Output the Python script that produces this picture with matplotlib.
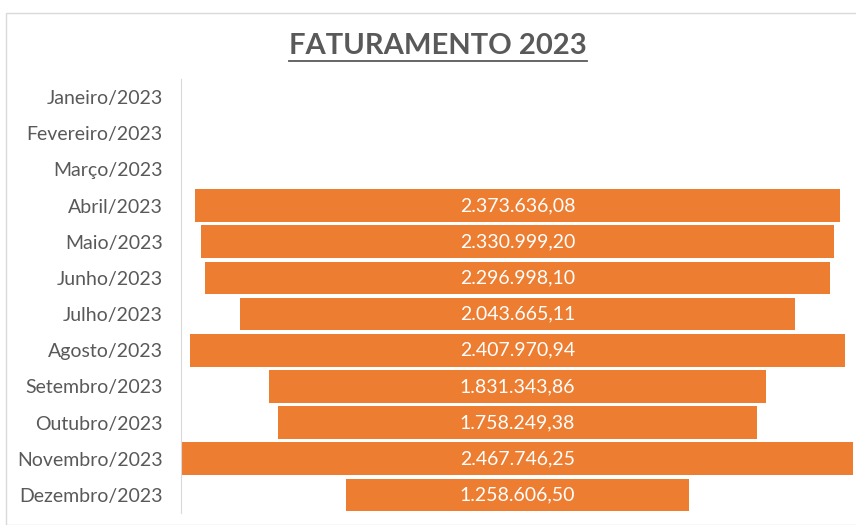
import numpy as np
import matplotlib.pyplot as plt
from matplotlib.lines import Line2D
from matplotlib.patches import Rectangle

plt.rcParams['font.family'] = ['Lato', 'DejaVu Sans']

months = ["Janeiro/2023", "Fevereiro/2023", "Março/2023", "Abril/2023",
          "Maio/2023", "Junho/2023", "Julho/2023", "Agosto/2023",
          "Setembro/2023", "Outubro/2023", "Novembro/2023", "Dezembro/2023"]
revenue = [0, 0, 0, 2373636.08, 2330999.20, 2296998.10, 2043665.11,
           2407970.94, 1831343.86, 1758249.38, 2467746.25, 1258606.50]

ORANGE = "#ED7D31"
GREY_TXT = "#595959"


def fmt_br(v):
    s = f"{v:,.2f}"
    return s.replace(",", "X").replace(".", ",").replace("X", ".")


W, H = 856, 525
fig = plt.figure(figsize=(W / 100, H / 100), dpi=100)

# chart frame
fig.add_artist(Rectangle((6 / W, 0), 1.0, 1 - 13 / H, transform=fig.transFigure,
                         fill=False, edgecolor="#d9d9d9", lw=1.0))

ax = fig.add_axes([182 / W, 1 - 513 / H, (853 - 182) / W, (513 - 79) / H])

vals = np.array(revenue, dtype=float)
y = np.arange(len(months))
vmax = vals.max()
for yi, v in zip(y, vals):
    if v <= 0:
        continue
    ax.barh(yi, v, left=-v / 2, height=0.9, color=ORANGE, edgecolor="none")
    ax.text(0, yi, fmt_br(v), ha="center", va="center", color="white", fontsize=14)

ax.set_xlim(-vmax / 2, vmax / 2)
ax.set_ylim(len(months) - 0.5, -0.5)
ax.set_yticks(y)
ax.set_yticklabels(months)
ax.tick_params(axis="y", length=0, pad=13, labelsize=14, labelcolor=GREY_TXT)
ax.set_xticks([])
for s in ["top", "right", "bottom"]:
    ax.spines[s].set_visible(False)
ax.spines["left"].set_color("#d9d9d9")
ax.spines["left"].set_position(("outward", 1))

title = fig.text(438 / W, 1 - 46 / H, "FATURAMENTO 2023", ha="center", va="center",
                 fontsize=21, fontweight="bold", color=GREY_TXT)
fig.canvas.draw()
bb = title.get_window_extent().transformed(fig.transFigure.inverted())
fig.add_artist(Line2D([bb.x0, bb.x1], [bb.y0 - 2 / H, bb.y0 - 2 / H],
                      transform=fig.transFigure, color=GREY_TXT, lw=1.3))

fig.savefig("out.png", dpi=100)
